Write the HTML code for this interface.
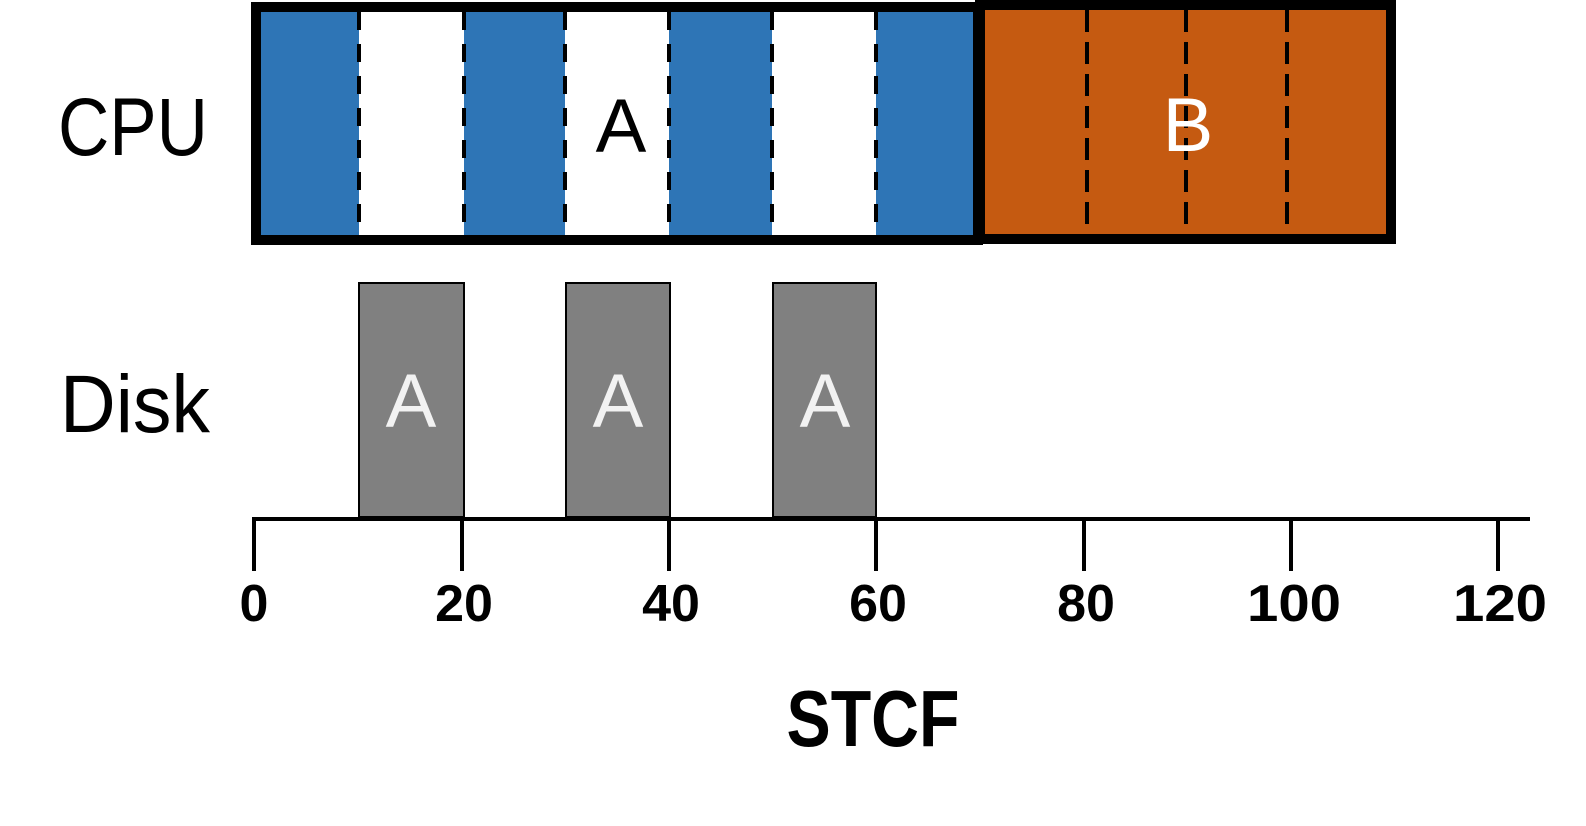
<!DOCTYPE html>
<html><head><meta charset="utf-8"><style>html,body{margin:0;padding:0;background:#fff}svg{display:block}</style></head>
<body>
<svg width="1586" height="826" viewBox="0 0 1586 826" xmlns="http://www.w3.org/2000/svg" font-family="Liberation Sans, sans-serif">
<!-- A box -->
<rect x="256" y="7" width="722" height="233" fill="#fff" stroke="#000" stroke-width="10"/>
<g fill="#2e75b6">
<rect x="261" y="12" width="98" height="223"/>
<rect x="464" y="12" width="101" height="223"/>
<rect x="669" y="12" width="103" height="223"/>
<rect x="876" y="12" width="97" height="223"/>
</g>
<g stroke="#000" stroke-width="4" stroke-dasharray="18,14">
<line x1="359" y1="12" x2="359" y2="235"/>
<line x1="464" y1="12" x2="464" y2="235"/>
<line x1="565" y1="12" x2="565" y2="235"/>
<line x1="669" y1="12" x2="669" y2="235"/>
<line x1="772" y1="12" x2="772" y2="235"/>
<line x1="876" y1="12" x2="876" y2="235"/>
</g>
<text x="621" y="152" font-size="76" text-anchor="middle" fill="#000">A</text>
<!-- B box -->
<rect x="980" y="5" width="411" height="234" fill="#c55a11" stroke="#000" stroke-width="10"/>
<g stroke="#000" stroke-width="4" stroke-dasharray="22,10">
<line x1="1087" y1="10" x2="1087" y2="234"/>
<line x1="1186" y1="10" x2="1186" y2="234"/>
<line x1="1287" y1="10" x2="1287" y2="234"/>
</g>
<text x="1188" y="151" font-size="76" text-anchor="middle" fill="#fff">B</text>
<!-- labels -->
<text x="58" y="155" font-size="82" textLength="150" lengthAdjust="spacingAndGlyphs">CPU</text>
<text x="60" y="432" font-size="82" textLength="150" lengthAdjust="spacingAndGlyphs">Disk</text>
<!-- disk -->
<g fill="#808080" stroke="#000" stroke-width="2">
<rect x="359" y="283" width="105" height="234"/>
<rect x="566" y="283" width="104" height="234"/>
<rect x="773" y="283" width="103" height="234"/>
</g>
<g fill="#f2f2f2" font-size="76" text-anchor="middle">
<text x="411" y="427">A</text>
<text x="618" y="427">A</text>
<text x="825" y="427">A</text>
</g>
<!-- axis -->
<line x1="252" y1="519" x2="1530" y2="519" stroke="#000" stroke-width="4"/>
<g stroke="#000" stroke-width="4">
<line x1="254" y1="519" x2="254" y2="571"/>
<line x1="462" y1="519" x2="462" y2="571"/>
<line x1="669" y1="519" x2="669" y2="571"/>
<line x1="876" y1="519" x2="876" y2="571"/>
<line x1="1084" y1="519" x2="1084" y2="571"/>
<line x1="1291" y1="519" x2="1291" y2="571"/>
<line x1="1498" y1="519" x2="1498" y2="571"/>
</g>
<g font-size="52" font-weight="bold" text-anchor="middle">
<text x="254" y="621">0</text>
<text x="464" y="621">20</text>
<text x="671" y="621">40</text>
<text x="878" y="621">60</text>
<text x="1086" y="621">80</text>
<text x="1294" y="621" textLength="94" lengthAdjust="spacingAndGlyphs">100</text>
<text x="1500" y="621" textLength="94" lengthAdjust="spacingAndGlyphs">120</text>
</g>
<text x="873" y="746" font-size="80" font-weight="bold" text-anchor="middle" textLength="173" lengthAdjust="spacingAndGlyphs">STCF</text>
</svg>
</body></html>
